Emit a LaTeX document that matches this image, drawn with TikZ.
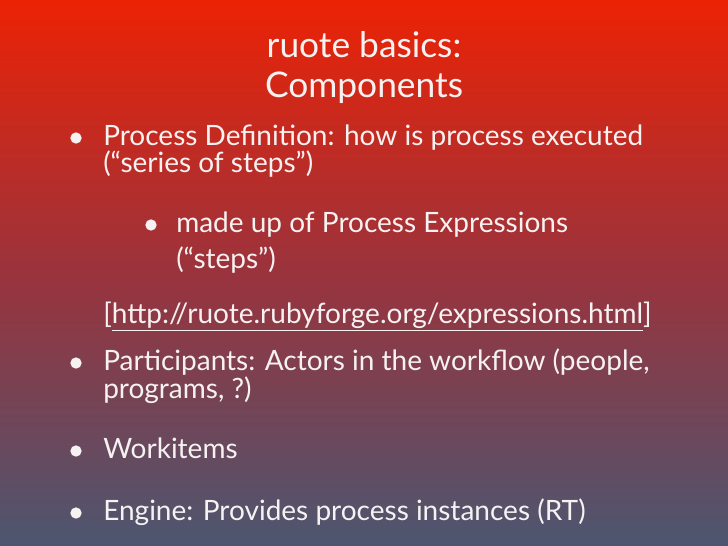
\documentclass[tikz,border=0pt]{standalone}
\usepackage{fontspec}
\setmainfont{Lato}
\definecolor{topc}{HTML}{EC2205}
\definecolor{midc}{HTML}{9A333D}
\definecolor{botc}{HTML}{4C5670}
\definecolor{txt}{HTML}{F7F2F2}
\begin{document}
\begin{tikzpicture}[x=0.75pt,y=-0.75pt,
  body/.style={anchor=base west,inner sep=0pt,text=txt,font=\fontsize{21}{23}\selectfont},
  ttl/.style={anchor=base,inner sep=0pt,text=txt,font=\fontsize{26.5}{28}\selectfont},
  bul/.style={circle,fill=txt,inner sep=0pt,minimum size=8.5pt}]
\shade[top color=topc,bottom color=botc,middle color=midc] (0,0) rectangle (728,546);
\useasboundingbox (0,0) rectangle (728,546);
\node[ttl] (t1) at (364,57) {ruote basics:};
\node[ttl] (t2) at (364,97) {Components};
\node[bul] (b1) at (76,138) {};
\node[body] (l1) at (103,145) {Process Definition: how is process executed};
\node[body] (l2) at (103,172) {(“series of steps”)};
\node[bul] (b2) at (151,225) {};
\node[body] (l3) at (176,232) {made up of Process Expressions};
\node[body] (l4) at (176,268) {(“steps”)};
\node[body] (l5) at (103,323) {[\underline{http://ruote.rubyforge.org/expressions.html}]};
\node[bul] (b3) at (76,363) {};
\node[body] (l6) at (103,370) {Participants: Actors in the workflow (people,};
\node[body] (l7) at (103,398) {programs, ?)};
\node[bul] (b4) at (76,451) {};
\node[body] (l8) at (103,458) {Workitems};
\node[bul] (b5) at (76,513) {};
\node[body] (l9) at (103,520) {Engine: Provides process instances (RT)};
\end{tikzpicture}
\end{document}
